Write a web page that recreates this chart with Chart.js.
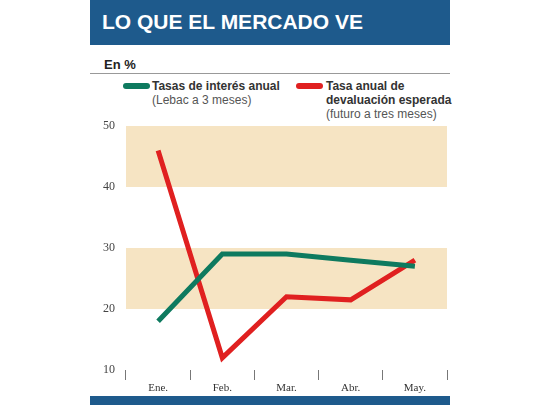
<!DOCTYPE html>
<html><head><meta charset="utf-8">
<script src="https://cdn.jsdelivr.net/npm/chart.js@4"></script>
<style>
body{margin:0;width:540px;height:405px;background:#fff;position:relative;overflow:hidden;font-family:"Liberation Sans",Arial,sans-serif}
.t{position:absolute;left:90px;top:0;width:360px;height:45px;background:#1e5a8c;color:#fff;font:bold 21px "Liberation Sans Narrow","Liberation Sans",sans-serif;line-height:44px;padding-left:12px;box-sizing:border-box}
.b{position:absolute;left:90px;top:396px;width:360px;height:9px;background:#1e5a8c}
.en{position:absolute;left:104px;top:57px;font:bold 13px "Liberation Sans Narrow",sans-serif;color:#222}
.hr{position:absolute;left:90px;top:73px;width:360px;height:1px;background:#999}
.sw{position:absolute;width:27px;height:6px;border-radius:3px}
.lg{position:absolute;font:12px "Liberation Sans Narrow",sans-serif;color:#555;line-height:14px}
.lg b{color:#333}
#c{position:absolute;left:90px;top:110px}
</style></head><body>
<div class="t">LO QUE EL MERCADO VE</div>
<div class="en">En %</div>
<div class="hr"></div>
<div class="sw" style="left:123px;top:83px;background:#0e7a5f"></div>
<div class="lg" style="left:152px;top:79px"><b>Tasas de interés anual</b><br>(Lebac a 3 meses)</div>
<div class="sw" style="left:296px;top:83px;background:#e02020"></div>
<div class="lg" style="left:326px;top:79px"><b>Tasa anual de<br>devaluación esperada</b><br>(futuro a tres meses)</div>
<canvas id="c" width="360" height="285"></canvas>
<div class="b"></div>
<script>
const months = ['Ene.', 'Feb.', 'Mar.', 'Abr.', 'May.'];
const tasaInteres = [18, 29, 29, 28, 27];
const devaluacion = [46, 12, 22, 21.5, 28];
const bands = [[20, 30], [40, 50]];

const bandPlugin = {
  id: 'bands',
  beforeDatasetsDraw(chart) {
    const {ctx, chartArea: a, scales: {y}} = chart;
    ctx.save();
    ctx.fillStyle = '#f6e4c3';
    bands.forEach(([lo, hi]) => {
      ctx.fillRect(a.left, y.getPixelForValue(hi), a.right - a.left, y.getPixelForValue(lo) - y.getPixelForValue(hi));
    });
    ctx.restore();
  }
};

new Chart(document.getElementById('c'), {
  type: 'line',
  data: {
    labels: months,
    datasets: [
      {data: tasaInteres, borderColor: '#0e7a5f', borderWidth: 5, pointRadius: 0, tension: 0},
      {data: devaluacion, borderColor: '#e02020', borderWidth: 5, pointRadius: 0, tension: 0}
    ]
  },
  options: {
    responsive: false,
    animation: false,
    layout: {padding: {top: 16, right: 3}},
    plugins: {legend: {display: false}, tooltip: {enabled: false}},
    scales: {
      x: {
        offset: true,
        grid: {offset: true, drawOnChartArea: false, tickLength: 10, color: '#777'},
        border: {display: false},
        ticks: {color: '#333', font: {family: 'Liberation Sans Narrow', size: 11}, padding: 2},
        afterFit(s) { s.height = 25; }
      },
      y: {
        min: 10, max: 50,
        grid: {display: false},
        border: {display: false},
        ticks: {stepSize: 10, color: '#444', font: {family: 'Liberation Sans Narrow', size: 12}},
        afterFit(s) { s.width = 36; }
      }
    }
  },
  plugins: [bandPlugin]
});
</script>
</body></html>
